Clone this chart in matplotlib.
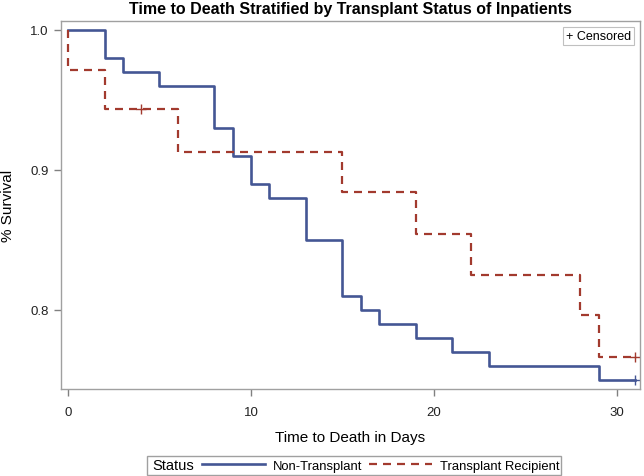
import matplotlib
matplotlib.use("Agg")
import matplotlib.pyplot as plt
from matplotlib.lines import Line2D
from matplotlib.patches import Rectangle

plt.rcParams['font.family'] = ['Liberation Sans', 'DejaVu Sans']

# Kaplan-Meier steps
non_days = [0, 2, 3, 5, 8, 9, 10, 11, 13, 15, 16, 17, 19, 21, 23, 29, 31]
non_surv = [1.0, 0.98, 0.97, 0.96, 0.93, 0.91, 0.89, 0.88, 0.85, 0.81, 0.80,
            0.79, 0.78, 0.77, 0.76, 0.75, 0.75]
non_cens_days = [31]
non_cens_surv = [0.75]

tx_days = [0, 0, 2, 6, 15, 19, 22, 28, 29, 31]
tx_surv = [1.0, 0.971, 0.943, 0.913, 0.884, 0.854, 0.825, 0.796, 0.766, 0.766]
tx_cens_days = [4, 31]
tx_cens_surv = [0.943, 0.766]

labels = ["Non-Transplant", "Transplant Recipient"]
blue = "#445694"
red = "#A23A2E"
frame = "#a0a0a0"

fig = plt.figure(figsize=(6.44, 4.77), dpi=100)
ax = fig.add_axes([61 / 644, 1 - 390 / 477, 578.5 / 644, 368 / 477])

ax.step(non_days, non_surv, where="post", color=blue, lw=1.9)
ax.plot(non_cens_days, non_cens_surv, "+", color=blue, ms=7, mew=1)
ax.step(tx_days, tx_surv, where="post", color=red, lw=1.6,
        linestyle=(0, (3.6, 2.7)))
ax.plot(tx_cens_days, tx_cens_surv, "+", color=red, ms=7, mew=1)

ax.set_xlim(-0.38, 31.23)
ax.set_ylim(0.7434, 1.0062)
ax.set_xticks([0, 10, 20, 30])
ax.set_yticks([0.8, 0.9, 1.0])
ax.set_yticklabels(["0.8", "0.9", "1.0"])
for s in ax.spines.values():
    s.set_color(frame)
    s.set_linewidth(1)
ax.tick_params(length=5, width=1, color="#808080", labelsize=9.5,
               labelcolor="#222222", pad=4)
ax.tick_params(axis="x", pad=7)

ax.set_xlabel("Time to Death in Days", fontsize=11, labelpad=9)
ax.set_ylabel("% Survival", fontsize=11, labelpad=11)
ax.set_title("Time to Death Stratified by Transplant Status of Inpatients",
             fontsize=11.5, fontweight="bold", pad=6)

# censored inset box
ax.text(0.985, 0.975, "+ Censored", transform=ax.transAxes, fontsize=9,
        ha="right", va="top",
        bbox=dict(boxstyle="square,pad=0.25", fc="white", ec="#c0c0c0", lw=0.8))

# bottom legend
fig.patches.append(Rectangle((147 / 644, 1 - 476 / 477), 414 / 644, 19 / 477,
                             transform=fig.transFigure, fill=False,
                             ec=frame, lw=1))
fig.text(152 / 644, 1 - 466.5 / 477, "Status", fontsize=10.5, ha="left",
         va="center")
handles = [Line2D([], [], color=blue, lw=1.9),
           Line2D([], [], color=red, lw=1.6, linestyle=(0, (3.6, 2.7)))]
fig.legend(handles, labels, ncol=2, frameon=False, fontsize=9.4,
           loc="center left", bbox_to_anchor=(202 / 644, 1 - 466.5 / 477),
           handlelength=4.8, handletextpad=0.6, columnspacing=0.55,
           borderpad=0, borderaxespad=0)

fig.savefig("out.png", dpi=100)
